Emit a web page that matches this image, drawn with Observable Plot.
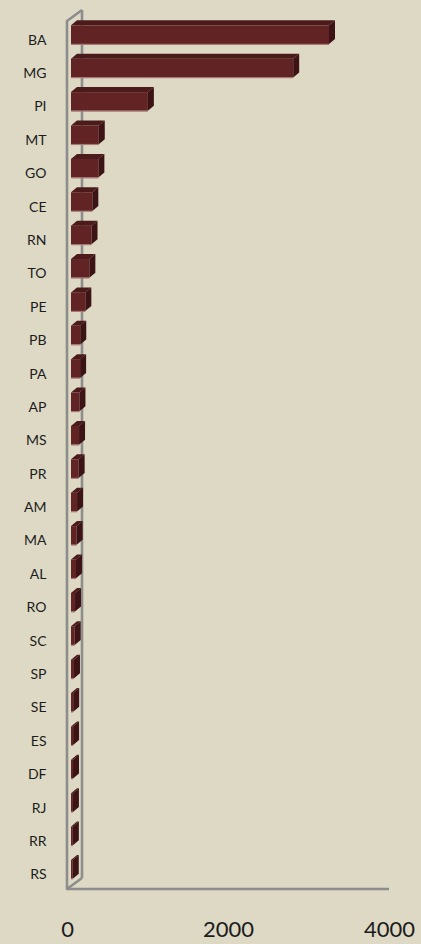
<!DOCTYPE html>
<html>
<head>
<meta charset="utf-8">
<script src="https://cdn.jsdelivr.net/npm/d3@7"></script>
<script src="https://cdn.jsdelivr.net/npm/@observablehq/plot@0.6"></script>
<style>
html, body { margin: 0; padding: 0; background: #DDD9C4; }
#chart { width: 421px; height: 944px; }
</style>
</head>
<body>
<div id="chart"></div>
<script>
// Data
const states = ["BA","MG","PI","MT","GO","CE","RN","TO","PE","PB","PA","AP","MS","PR","AM","MA","AL","RO","SC","SP","SE","ES","DF","RJ","RR","RS"];
const counts = [3205, 2760, 955, 345, 340, 265, 255, 228, 178, 115, 113, 105, 100, 95, 75, 70, 62, 50, 46, 37, 27, 26, 25, 24, 23, 22];
const xTicks = [0, 2000, 4000];

const data = states.map((s, i) => ({state: s, value: counts[i]}));

// 3D styling (pixels)
const barDx = 4, barDy = -3;
const depthX = 6, depthY = 5;
const wallX = 15, wallY = 11;
const wallColor = "#8d8d8d";
const frontColor = "#622325";
const topColor = "#4b1a1b";
const sideColor = "#3d1415";
const edgeColor = "#a67a78";

function wallBack(index, scales, values, dims) {
  const sx = scales.x;
  const top = dims.marginTop, bottom = dims.height - dims.marginBottom;
  const x0 = sx(0);
  const g = d3.create("svg:g").attr("fill", "none").attr("stroke", wallColor).attr("stroke-width", 2.6);
  g.append("path").attr("d", `M${x0 + wallX},${top - wallY}V${bottom - wallY}`);
  return g.node();
}

function wallFront(index, scales, values, dims) {
  const sx = scales.x;
  const top = dims.marginTop, bottom = dims.height - dims.marginBottom;
  const x0 = sx(0);
  const g = d3.create("svg:g").attr("fill", "none").attr("stroke", wallColor).attr("stroke-width", 2.6).attr("stroke-linejoin", "round");
  g.append("path").attr("d", `M${x0 + wallX},${top - wallY}L${x0},${top}V${bottom}L${x0 + wallX},${bottom - wallY}`);
  g.append("path").attr("d", `M${x0},${bottom}H${sx(xTicks[xTicks.length - 1])}`);
  return g.node();
}

function faces(index, scales, values, dims) {
  const sx = scales.x, sy = scales.y;
  const bw = sy.bandwidth();
  const g = d3.create("svg:g");
  for (const d of data) {
    const xl = sx(0) + barDx, xr = sx(d.value) + barDx;
    const yt = sy(d.state) + barDy, yb = yt + bw;
    g.append("path").attr("fill", topColor)
      .attr("d", `M${xl},${yt}L${xr},${yt}L${xr + depthX},${yt - depthY}L${xl + depthX},${yt - depthY}Z`);
    g.append("path").attr("fill", sideColor)
      .attr("d", `M${xr},${yt}L${xr + depthX},${yt - depthY}L${xr + depthX},${yb - depthY}L${xr},${yb}Z`);
    g.append("path").attr("stroke", edgeColor).attr("stroke-width", 1.2).attr("fill", "none")
      .attr("d", `M${xl},${yb + 0.3}H${xr}`);
  }
  return g.node();
}

const chart = Plot.plot({
  width: 421,
  height: 944,
  marginLeft: 67,
  marginRight: 32,
  marginTop: 21,
  marginBottom: 55,
  style: {background: "#DDD9C4", fontFamily: "Lato, 'Open Sans', sans-serif", color: "#1c1c1c"},
  x: {domain: [0, 4000], ticks: xTicks},
  y: {domain: states, paddingInner: 0.44, paddingOuter: 0.22, round: false},
  marks: [
    wallBack,
    Plot.barX(data, {x: "value", y: "state", dx: barDx, dy: barDy, fill: frontColor}),
    faces,
    wallFront,
    Plot.axisY({tickSize: 0, tickPadding: 21, dy: 2, fontSize: 14, label: null}),
    Plot.axisX({ticks: xTicks, tickFormat: (d) => String(d), tickSize: 0, tickPadding: 32, fontSize: 22, label: null})
  ]
});
document.getElementById("chart").appendChild(chart);
</script>
</body>
</html>
